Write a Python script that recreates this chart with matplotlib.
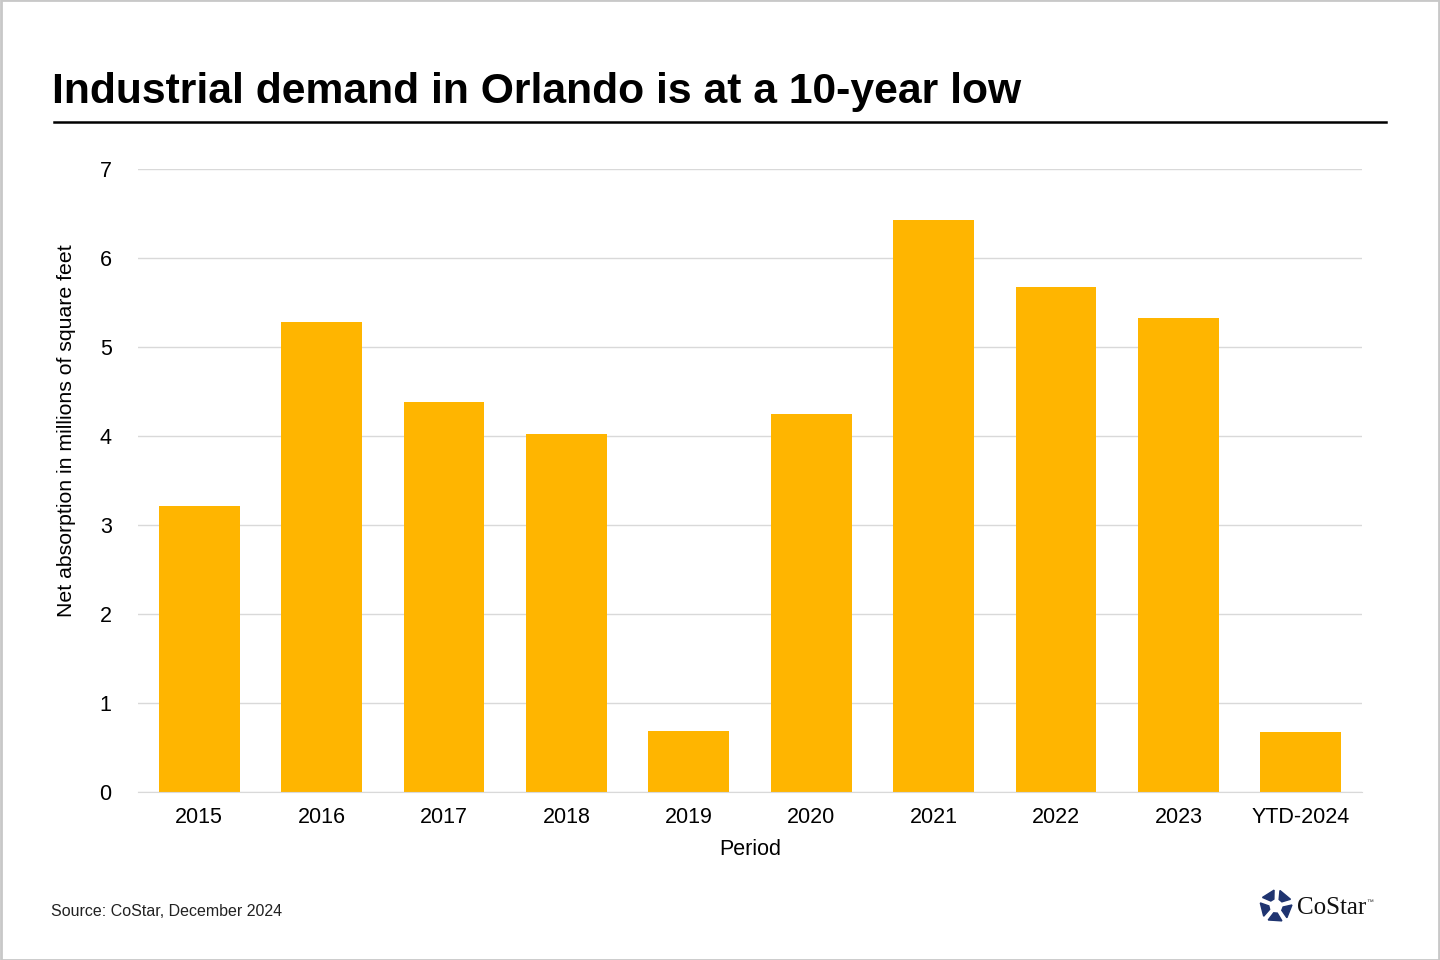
import numpy as np
import matplotlib.pyplot as plt
from matplotlib.patches import Polygon, Rectangle

periods = ['2015', '2016', '2017', '2018', '2019', '2020', '2021', '2022', '2023', 'YTD-2024']
absorption = [3.21, 5.28, 4.38, 4.02, 0.685, 4.25, 6.43, 5.67, 5.33, 0.67]

plt.rcParams['font.family'] = ['Liberation Sans', 'DejaVu Sans']

fig = plt.figure(figsize=(14.4, 9.6), dpi=100)
W, H = 1440, 960

# axes placed in pixel coordinates of the reference
left, right, top, bottom = 138, 1362, 169, 792
ax = fig.add_axes([left / W, 1 - bottom / H, (right - left) / W, (bottom - top) / H])

x = np.arange(len(periods))
ax.bar(x, absorption, width=0.66, color='#FFB500', zorder=2)
ax.set_xlim(-0.5, len(periods) - 0.5)
ax.set_ylim(0, 7)
ax.set_yticks(range(0, 8))
ax.set_xticks(x)
ax.set_xticklabels(periods)
ax.grid(axis='y', color='#d9d9d9', linewidth=1, zorder=0)
for s in ['top', 'right', 'left']:
    ax.spines[s].set_visible(False)
ax.spines['bottom'].set_color('#d9d9d9')
ax.tick_params(axis='both', length=0, labelsize=15.5, colors='#000000')
ax.tick_params(axis='y', pad=19)
ax.tick_params(axis='x', pad=11)
ax.set_xlabel('Period', fontsize=15.5, labelpad=8)

# y label sits a bit above the axes centre in the reference
fig.text(67 / W, 1 - 431 / H, 'Net absorption in millions of square feet',
         fontsize=15.3, rotation=90, va='center', ha='center')

# title and rule
fig.text(52 / W, 1 - 92 / H, 'Industrial demand in Orlando is at a 10-year low',
         fontsize=30.7, fontweight='bold', va='center', ha='left')
fig.add_artist(plt.Line2D([54 / W, 1386 / W], [1 - 122 / H, 1 - 122 / H],
                          color='black', linewidth=1.8))

# source
fig.text(51 / W, 1 - 912 / H, 'Source: CoStar, December 2024', fontsize=11.5,
         va='center', ha='left', color='#222222')

# simple CoStar logo
cx, cy, R = 1276 / W, 1 - 906 / H, 16
navy = '#1f3470'
for k in range(5):
    a0 = np.pi / 2 + k * 2 * np.pi / 5
    a1 = a0 + 2 * np.pi / 5
    pts = []
    for a, r in [(a0 + 0.12, R), (a1 - 0.25, R), (a1 - 0.45, R * 0.45), (a0 + 0.3, R * 0.45)]:
        pts.append((cx + r * np.cos(a) / W, cy + r * np.sin(a) / H))
    fig.add_artist(Polygon(pts, closed=True, color=navy, transform=fig.transFigure))
fig.text(1297 / W, 1 - 908 / H, 'CoStar', fontsize=18, family=['Liberation Serif', 'DejaVu Serif'],
         va='center', ha='left', color='#111111')
fig.text(1366 / W, 1 - 902 / H, '™', fontsize=5, va='center', ha='left', color='#333333')

# figure border
fig.add_artist(Rectangle((0.0005, 0.0005), 0.999, 0.999, transform=fig.transFigure,
                         fill=False, edgecolor='#c8c8c8', linewidth=2))

fig.savefig('out.png', dpi=100)
